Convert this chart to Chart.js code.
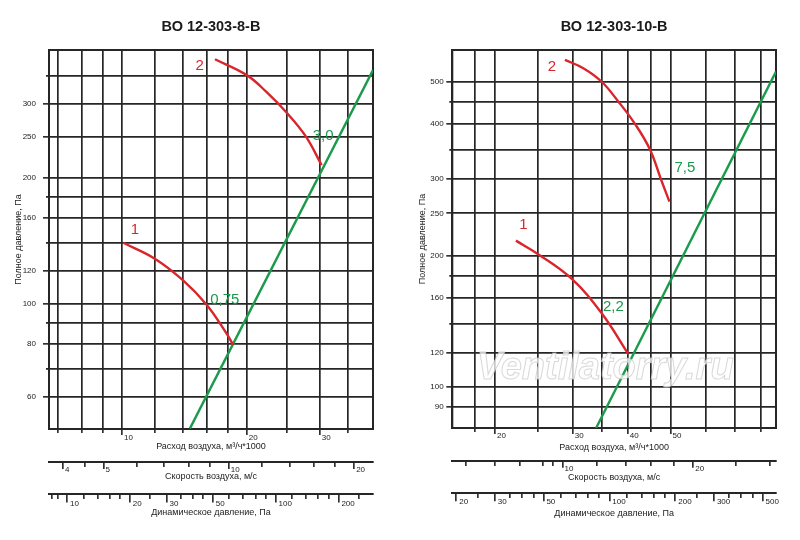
<!DOCTYPE html>
<html>
<head>
<meta charset="utf-8">
<script src="https://cdn.jsdelivr.net/npm/chart.js@4.4.1/dist/chart.umd.min.js"></script>
<style>
  body { margin: 0; background: #fff; }
  .panel { position: absolute; top: 0; width: 400px; height: 540px; }
</style>
</head>
<body>
<div class="panel" style="left:0"><canvas id="fan8" width="400" height="540"></canvas></div>
<div class="panel" style="left:400px"><canvas id="fan10" width="400" height="540"></canvas></div>
<script>
// ---- ВО 12-303-8-В ----
const title8 = 'ВО 12-303-8-В';
const q8Curve1 = [10.07, 12, 14, 16, 17.85, 18.55];
const p8Curve1 = [139.7, 128, 113.9, 99.4, 85, 79.6];
const q8Curve2 = [16.76, 20, 22.3, 25, 27.8, 30.3];
const p8Curve2 = [383, 351, 320, 285, 250, 214];
const q8System = [14.58, 40.3];
const p8System = [50.3, 361];
const notes8Text = ['1', '2', '0,75', '3,0'];
const notes8Q = [10.75, 15.4, 17.7, 30.55];
const notes8P = [150, 369, 102, 251];

const q8Ticks = [7, 8, 9, 10, 12, 14, 16, 18, 20, 25, 30, 35];
const q8Labels = [10, 20, 30];
const p8Ticks = [60, 70, 80, 90, 100, 120, 140, 160, 180, 200, 250, 300, 350];
const p8Labels = [60, 80, 100, 120, 160, 200, 250, 300];
const v8Ticks = [4, 4.5, 5, 6, 7, 8, 9, 10, 12, 14, 16, 18, 20];
const v8Labels = [4, 5, 10, 20];
const pd8Ticks = [8.5, 9, 10, 12, 14, 16, 18, 20, 25, 30, 35, 40, 45, 50, 60, 70, 80, 90, 100, 120, 140, 160, 180, 200, 250];
const pd8Labels = [10, 20, 30, 50, 100, 200];

// ---- ВО 12-303-10-В ----
const title10 = 'ВО 12-303-10-В';
const q10Curve1 = [22.3, 25, 29.9, 34.9, 40.1];
const p10Curve1 = [216.5, 201.8, 176.7, 147.7, 119.2];
const q10Curve2 = [28.8, 31.7, 34.9, 38.1, 41.55, 44.9, 47.5, 49.7];
const p10Curve2 = [561, 537, 500, 450, 400, 350, 300, 266];
const q10System = [33.9, 86.7];
const p10System = [80.7, 527.6];
const notes10Text = ['2', '1', '7,5', '2,2'];
const notes10Q = [26.9, 23.2, 53.9, 37.1];
const notes10P = [541, 235, 317, 152.9];

const q10Ticks = [18, 20, 25, 30, 35, 40, 45, 50, 60, 70, 80];
const q10Labels = [20, 30, 40, 50];
const p10Ticks = [90, 100, 120, 140, 160, 180, 200, 250, 300, 350, 400, 450, 500];
const p10Labels = [90, 100, 120, 160, 200, 250, 300, 400, 500];
const v10Ticks = [6, 7, 8, 9, 9.5, 10, 12, 14, 16, 18, 20, 25, 30];
const v10Labels = [10, 20];
const pd10Ticks = [20, 25, 30, 35, 40, 45, 50, 60, 70, 80, 90, 100, 120, 140, 160, 180, 200, 250, 300, 350, 400, 450, 500];
const pd10Labels = [20, 30, 50, 100, 200, 300, 500];

const INK = '#262626';
const RED = '#d9262c';
const GREEN = '#1b9a4c';
const NARROW = "'Liberation Sans Narrow', 'Liberation Sans', Arial, sans-serif";
const WIDE = "'Liberation Sans', Arial, sans-serif";

const zip = (xs, ys) => xs.map((x, i) => ({ x: x, y: ys[i] }));

function logAxis(o) {
  // minor ticks are shorter: dash only the part next to the axis line
  const minorDash = o.axis === 'y' ? [0, o.tl - o.minorTl, o.minorTl, 60] : [o.minorTl, 60];
  return {
    type: 'logarithmic',
    axis: o.axis,
    position: o.position,
    weight: o.weight || 0,
    min: o.min,
    max: o.max,
    afterBuildTicks: s => { s.ticks = o.ticks.map(v => ({ value: v })); },
    afterFit: s => {
      if (s.isHorizontal()) s.height = o.size; else s.width = o.size;
    },
    border: { display: true, color: INK, width: 2 },
    grid: {
      drawOnChartArea: o.onChart,
      color: INK,
      lineWidth: 1.7,
      tickLength: o.tl,
      tickColor: INK,
      tickWidth: 1.6,
      tickBorderDash: ctx => (ctx.tick && o.labels.includes(ctx.tick.value)) ? [] : minorDash
    },
    ticks: {
      autoSkip: false,
      maxRotation: 0,
      minRotation: 0,
      align: o.axis === 'x' ? 'start' : 'center',
      labelOffset: o.labelOffset || 0,
      padding: o.pad,
      color: '#222',
      font: { family: NARROW, size: 8 },
      callback: v => o.labels.includes(v) ? String(v) : ''
    },
    title: {
      display: true,
      text: o.title,
      color: '#222',
      font: { family: NARROW, size: 9 },
      padding: o.titlePad
    }
  };
}

const framePlugin = {
  id: 'frame',
  beforeDatasetsDraw(chart) {
    const a = chart.chartArea, ctx = chart.ctx;
    ctx.save();
    ctx.strokeStyle = INK;
    ctx.lineWidth = 2;
    ctx.strokeRect(a.left, a.top, a.right - a.left, a.bottom - a.top);
    ctx.restore();
  }
};

const headPlugin = {
  id: 'head',
  afterDraw(chart, args, opts) {
    const a = chart.chartArea, ctx = chart.ctx;
    ctx.save();
    ctx.fillStyle = '#1a1a1a';
    ctx.font = 'bold 14.5px ' + WIDE;
    ctx.textAlign = 'center';
    ctx.textBaseline = 'middle';
    ctx.fillText(opts.text, (a.left + a.right) / 2, 27);
    ctx.restore();
  }
};

const notesPlugin = {
  id: 'notes',
  afterDatasetsDraw(chart, args, opts) {
    const ctx = chart.ctx, sx = chart.scales.x, sy = chart.scales.y;
    ctx.save();
    ctx.font = '15px ' + WIDE;
    ctx.textAlign = 'center';
    ctx.textBaseline = 'middle';
    opts.text.forEach((t, i) => {
      ctx.fillStyle = opts.colors[i];
      ctx.fillText(t, sx.getPixelForValue(opts.q[i]), sy.getPixelForValue(opts.p[i]));
    });
    if (opts.watermark) {
      ctx.font = 'italic bold 38px ' + WIDE;
      ctx.lineWidth = 1;
      ctx.fillStyle = 'rgba(255,255,255,0.75)';
      ctx.strokeStyle = 'rgba(200,200,200,0.7)';
      const cx = (chart.chartArea.left + chart.chartArea.right) / 2 - 9;
      ctx.fillText(opts.watermark, cx, 369);
      ctx.strokeText(opts.watermark, cx, 369);
    }
    ctx.restore();
  }
};

function makePanel(id, d, L) {
  const curve = { borderColor: RED, borderWidth: 2.4, tension: 0.4 };
  new Chart(document.getElementById(id), {
    type: 'line',
    data: {
      datasets: [
        { ...curve, data: zip(d.q1, d.p1) },
        { ...curve, data: zip(d.q2, d.p2) },
        { data: zip(d.qs, d.ps), borderColor: GREEN, borderWidth: 2.4, tension: 0 }
      ]
    },
    options: {
      responsive: false,
      animation: false,
      layout: { padding: { top: 50, left: 0, right: L.padRight, bottom: L.padBottom } },
      elements: { point: { radius: 0 } },
      plugins: {
        legend: { display: false },
        tooltip: { enabled: false },
        head: { text: d.title },
        notes: { text: d.notes, q: d.nq, p: d.np, colors: [RED, RED, GREEN, GREEN], watermark: d.watermark }
      },
      scales: {
        x: logAxis({
          axis: 'x', position: 'bottom', weight: 1, min: L.qMin, max: L.qMax,
          ticks: d.qTicks, labels: d.qLabels, onChart: true, size: L.xH, tl: 6, minorTl: 3,
          labelOffset: 2, pad: L.xPad, title: 'Расход воздуха, м³/ч*1000',
          titlePad: { top: 0, bottom: L.xTitle }
        }),
        v: logAxis({
          axis: 'x', position: 'bottom', weight: 2, min: L.vMin, max: L.vMax,
          ticks: d.vTicks, labels: d.vLabels, onChart: false, size: L.vH, tl: 7, minorTl: 4,
          labelOffset: 2, pad: -4.1, title: 'Скорость воздуха, м/с',
          titlePad: { top: 0, bottom: L.vTitle }
        }),
        pd: logAxis({
          axis: 'x', position: 'bottom', weight: 3, min: L.pdMin, max: L.pdMax,
          ticks: d.pdTicks, labels: d.pdLabels, onChart: false, size: L.pdH, tl: 8.5, minorTl: 4,
          labelOffset: 3, pad: -3.8, title: 'Динамическое давление, Па',
          titlePad: { top: 0, bottom: L.pdTitle }
        }),
        y: logAxis({
          axis: 'y', position: 'left', min: L.pMin, max: L.pMax,
          ticks: d.pTicks, labels: d.pLabels, onChart: true, size: L.yW, tl: 6, minorTl: 3,
          pad: L.yPad, title: 'Полное давление, Па',
          titlePad: { top: L.yTitle, bottom: 0 }
        })
      }
    },
    plugins: [framePlugin, headPlugin, notesPlugin]
  });
}

makePanel('fan8', {
  title: title8,
  q1: q8Curve1, p1: p8Curve1, q2: q8Curve2, p2: p8Curve2, qs: q8System, ps: p8System,
  notes: notes8Text, nq: notes8Q, np: notes8P,
  qTicks: q8Ticks, qLabels: q8Labels, pTicks: p8Ticks, pLabels: p8Labels,
  vTicks: v8Ticks, vLabels: v8Labels, pdTicks: pd8Ticks, pdLabels: pd8Labels
}, {
  padRight: 27, padBottom: 18, yW: 49, xH: 33, vH: 32, pdH: 28,
  qMin: 6.67, qMax: 40.3, pMin: 50.2, pMax: 403, vMin: 3.7, vMax: 22.2, pdMin: 8.2, pdMax: 293,
  xPad: -1.9, yPad: 7, xTitle: 9.6, vTitle: 11.6, pdTitle: 3.6, yTitle: 13
});

makePanel('fan10', {
  title: title10,
  q1: q10Curve1, p1: p10Curve1, q2: q10Curve2, p2: p10Curve2, qs: q10System, ps: p10System,
  notes: notes10Text, nq: notes10Q, np: notes10P, watermark: 'Ventilatorry.ru',
  qTicks: q10Ticks, qLabels: q10Labels, pTicks: p10Ticks, pLabels: p10Labels,
  vTicks: v10Ticks, vLabels: v10Labels, pdTicks: pd10Ticks, pdLabels: pd10Labels
}, {
  padRight: 24, padBottom: 19.3, yW: 52.3, xH: 32.7, vH: 32, pdH: 28,
  qMin: 16, qMax: 86.7, pMin: 80.7, pMax: 591, vMin: 5.58, vMax: 31, pdMin: 19.2, pdMax: 576,
  xPad: -2.8, yPad: 2.7, xTitle: 8, vTitle: 10, pdTitle: 1.3, yTitle: 17.6
});
</script>
</body>
</html>
